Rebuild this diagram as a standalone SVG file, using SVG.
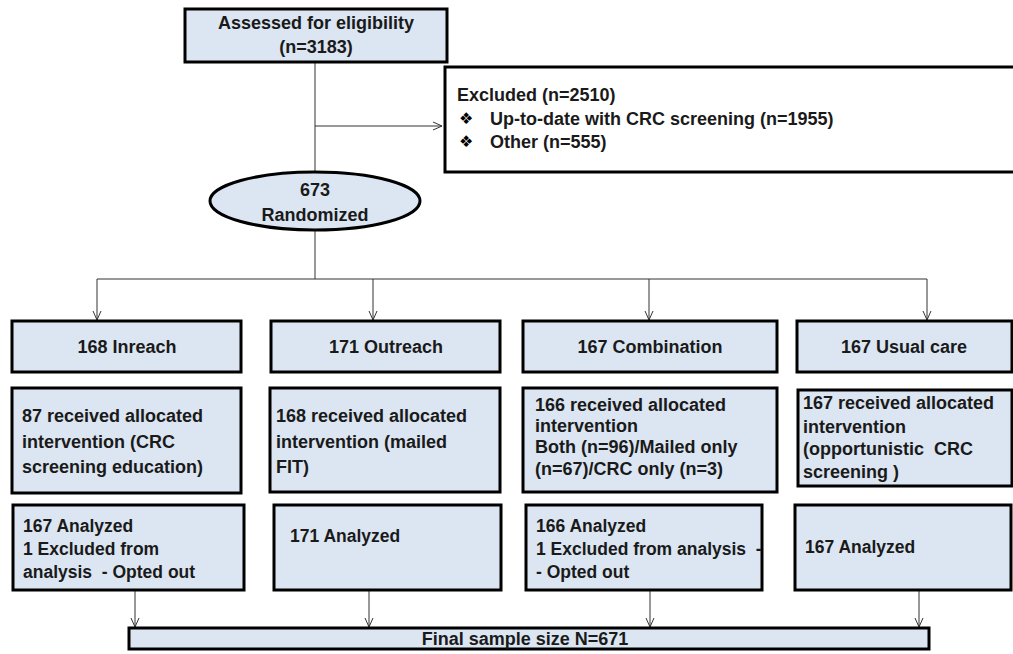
<svg xmlns="http://www.w3.org/2000/svg" width="1013" height="654" viewBox="0 0 1013 654">
  <defs>
    <style>
      .box { fill: #dce6f2; stroke: #000; stroke-width: 3; }
      .wbox { fill: #fff; stroke: #000; stroke-width: 3; }
      .t { font-family: "Liberation Sans", Arial, sans-serif; font-weight: bold; font-size: 18px; fill: #1a1a1a; }
      .b { font-family: "DejaVu Sans", sans-serif; font-weight: normal; font-size: 16px; fill: #000; }
      .c { text-anchor: middle; }
      .s { font-size: 17.5px; }
      .conn { fill: none; stroke: #333; stroke-width: 1; }
    </style>
    <marker id="arr" viewBox="0 0 10 10" refX="10" refY="5" markerWidth="10" markerHeight="10" markerUnits="userSpaceOnUse" orient="auto">
      <path d="M1,1 L10,5 L1,9" fill="none" stroke="#333" stroke-width="1"/>
    </marker>
  </defs>

  <g id="connectors">
    <line class="conn" x1="315" y1="62" x2="315" y2="172"/>
    <line class="conn" x1="315" y1="126" x2="442" y2="126" marker-end="url(#arr)"/>
    <line class="conn" x1="315" y1="231" x2="315" y2="279"/>
    <line class="conn" x1="97" y1="279" x2="927" y2="279"/>
    <line class="conn" x1="97" y1="279" x2="97" y2="320" marker-end="url(#arr)"/>
    <line class="conn" x1="373" y1="279" x2="373" y2="320" marker-end="url(#arr)"/>
    <line class="conn" x1="649" y1="279" x2="649" y2="320" marker-end="url(#arr)"/>
    <line class="conn" x1="927" y1="279" x2="927" y2="320" marker-end="url(#arr)"/>
    <line class="conn" x1="135" y1="590" x2="135" y2="627" marker-end="url(#arr)"/>
    <line class="conn" x1="369" y1="590" x2="369" y2="627" marker-end="url(#arr)"/>
    <line class="conn" x1="650" y1="590" x2="650" y2="627" marker-end="url(#arr)"/>
    <line class="conn" x1="919" y1="590" x2="919" y2="627" marker-end="url(#arr)"/>
  </g>

  <g id="assessed">
    <rect class="box" x="185" y="9" width="262" height="53"/>
    <text class="t c" x="316" y="29">Assessed for eligibility</text>
    <text class="t c" x="316" y="53">(n=3183)</text>
  </g>

  <g id="excluded">
    <rect class="wbox" x="445" y="67" width="580" height="105"/>
    <text class="t" x="457" y="101">Excluded (n=2510)</text>
    <text class="b" x="459" y="124">❖&#xFE0E;</text>
    <text class="t" x="490" y="125">Up-to-date with CRC screening (n=1955)</text>
    <text class="b" x="459" y="147">❖&#xFE0E;</text>
    <text class="t" x="490" y="148">Other (n=555)</text>
  </g>

  <g id="randomized">
    <ellipse class="box" cx="315" cy="201" rx="105" ry="29"/>
    <text class="t c" x="315" y="196">673</text>
    <text class="t c" x="315" y="221">Randomized</text>
  </g>

  <g id="inreach">
    <rect class="box" x="12" y="321" width="229" height="51"/>
    <text class="t c" x="127" y="353">168 Inreach</text>
  </g>
  <g id="outreach">
    <rect class="box" x="271" y="321" width="229" height="51"/>
    <text class="t c" x="386" y="353">171 Outreach</text>
  </g>
  <g id="combination">
    <rect class="box" x="523" y="321" width="254" height="51"/>
    <text class="t c" x="650" y="353">167 Combination</text>
  </g>
  <g id="usualcare">
    <rect class="box" x="797" y="321" width="215" height="51"/>
    <text class="t c" x="904" y="353">167 Usual care</text>
  </g>

  <g id="recv-inreach">
    <rect class="box" x="12" y="388" width="229" height="105"/>
    <text class="t" x="22" y="422">87 received allocated</text>
    <text class="t" x="22" y="448">intervention (CRC</text>
    <text class="t" x="22" y="473">screening education)</text>
  </g>
  <g id="recv-outreach">
    <rect class="box" x="270" y="388" width="230" height="104"/>
    <text class="t" x="276" y="422">168 received allocated</text>
    <text class="t" x="276" y="448">intervention (mailed</text>
    <text class="t" x="276" y="473">FIT)</text>
  </g>
  <g id="recv-combination">
    <rect class="box" x="523" y="388" width="254" height="104"/>
    <text class="t" x="535" y="411">166 received allocated</text>
    <text class="t" x="535" y="432">intervention</text>
    <text class="t" x="535" y="453">Both (n=96)/Mailed only</text>
    <text class="t" x="535" y="475">(n=67)/CRC only (n=3)</text>
  </g>
  <g id="recv-usualcare">
    <rect class="box" x="798" y="390" width="214" height="96"/>
    <text class="t" x="803" y="409">167 received allocated</text>
    <text class="t" x="803" y="433">intervention</text>
    <text class="t" x="803" y="455" xml:space="preserve">(opportunistic  CRC</text>
    <text class="t" x="803" y="478">screening )</text>
  </g>

  <g id="analyzed-inreach">
    <rect class="box" x="13" y="505" width="231" height="85"/>
    <text class="t s" x="23" y="532">167 Analyzed</text>
    <text class="t s" x="23" y="555">1 Excluded from</text>
    <text class="t s" x="23" y="578" xml:space="preserve">analysis  - Opted out</text>
  </g>
  <g id="analyzed-outreach">
    <rect class="box" x="274" y="505" width="227" height="85"/>
    <text class="t s" x="290" y="542">171 Analyzed</text>
  </g>
  <g id="analyzed-combination">
    <rect class="box" x="526" y="505" width="236" height="85"/>
    <text class="t s" x="536" y="532">166 Analyzed</text>
    <text class="t s" x="536" y="555" xml:space="preserve">1 Excluded from analysis  -</text>
    <text class="t s" x="536" y="578">- Opted out</text>
  </g>
  <g id="analyzed-usualcare">
    <rect class="box" x="795" y="505" width="216" height="85"/>
    <text class="t s" x="805" y="553">167 Analyzed</text>
  </g>

  <g id="final">
    <rect class="box" x="129" y="628" width="800" height="21"/>
    <text class="t c" x="525" y="645" font-size="16">Final sample size N=671</text>
  </g>
</svg>
